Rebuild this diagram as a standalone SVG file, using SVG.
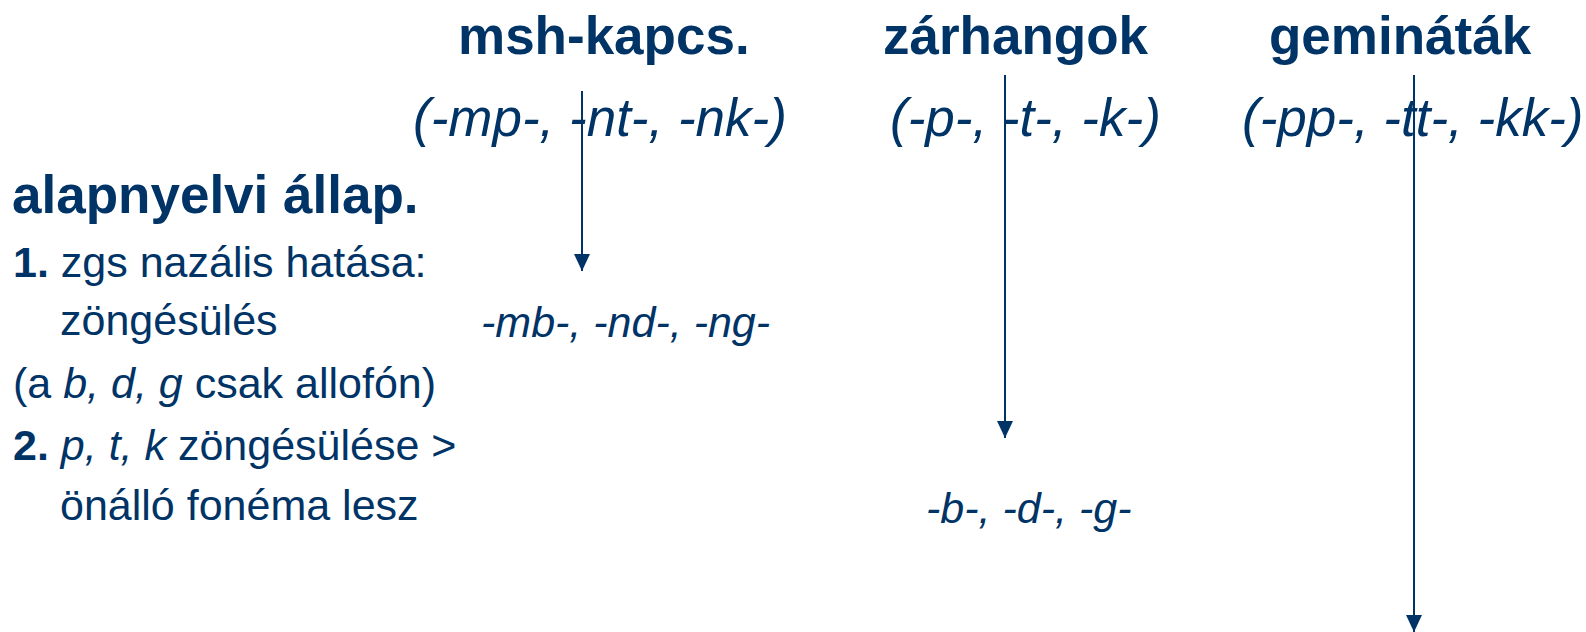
<svg xmlns="http://www.w3.org/2000/svg" width="1586" height="632" viewBox="0 0 1586 632">
<style>
text{font-family:"Liberation Sans",Arial,sans-serif;fill:#003366}
.h{font-weight:bold;font-size:53px}
.f{font-style:italic;font-size:53px}
.b{font-size:43px}
.s{font-style:italic;font-size:43px}
.bo{font-weight:bold}
.it{font-style:italic}
.ln{stroke:#003366;stroke-width:2;fill:none}
</style>
<defs>
<marker id="ah" viewBox="0 0 17 16" refX="17" refY="8" markerWidth="17" markerHeight="16" markerUnits="userSpaceOnUse" orient="auto">
<path d="M0,0 L17,8 L0,16 Z" fill="#003366"/>
</marker>
</defs>
<g id="col-msh">
<text class="h" x="458" y="54">msh-kapcs.</text>
<text class="f" x="413" y="136">(-mp-, -nt-, -nk-)</text>
</g>
<g id="col-zar">
<text class="h" x="883" y="54">zárhangok</text>
<text class="f" x="890" y="136">(-p-, -t-, -k-)</text>
</g>
<g id="col-gem">
<text class="h" x="1269" y="54">gemináták</text>
<text class="f" x="1242" y="136">(-pp-, -tt-, -kk-)</text>
</g>
<g id="left">
<text class="h" x="12" y="213">alapnyelvi állap.</text>
<text class="b" x="13" y="277"><tspan class="bo">1.</tspan> zgs nazális hatása:</text>
<text class="b" x="60" y="335">zöngésülés</text>
<text class="b" x="13" y="398">(a <tspan class="it">b, d, g</tspan> csak allofón)</text>
<text class="b" x="13" y="460"><tspan class="bo">2.</tspan> <tspan class="it">p, t, k</tspan> zöngésülése &gt;</text>
<text class="b" x="60" y="520">önálló fonéma lesz</text>
</g>
<g id="res-mb">
<text class="s" x="481" y="337">-mb-, -nd-, -ng-</text>
</g>
<g id="res-bdg">
<text class="s" x="926" y="523">-b-, -d-, -g-</text>
</g>
<g id="connectors">
<line class="ln" x1="582" y1="91" x2="582" y2="271" marker-end="url(#ah)"/>
<line class="ln" x1="1005" y1="75" x2="1005" y2="438" marker-end="url(#ah)"/>
<line class="ln" x1="1414" y1="75" x2="1414" y2="632" marker-end="url(#ah)"/>
</g>
</svg>
